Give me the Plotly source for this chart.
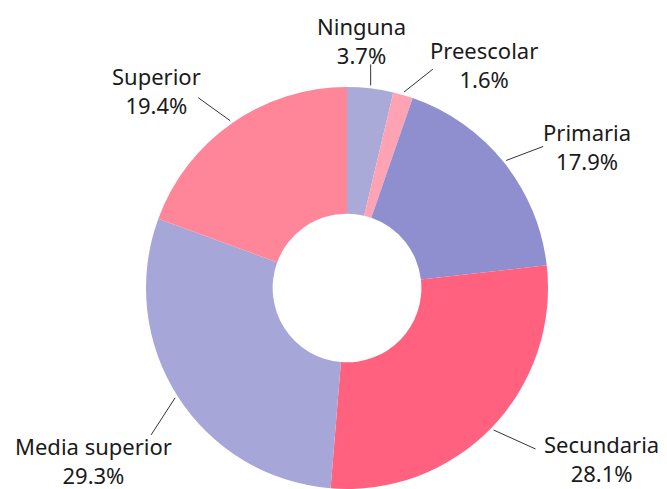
import math
import plotly.graph_objects as go

# ---- data ----
categories = ["Ninguna", "Preescolar", "Primaria", "Secundaria", "Media superior", "Superior"]
percentages = [3.7, 1.6, 17.9, 28.1, 29.3, 19.4]

# ---- styles ----
colors = ["#aaaad8", "#ffa2b4", "#8f8fcf", "#ff617e", "#a6a6d8", "#ff8598"]
# leader line vector (px) from slice edge, and label centre offset from line end (px)
line_vectors = [(0, -21), (29, -23), (37, -14), (42, 19), (-24, 37), (-32, -23)]
label_offsets = [(-9, -24), (51, -5), (44, 0), (66, 10), (-58, 26), (-42, -7)]

W, H = 667, 489
cx, R = 347, 201
cy = H - R  # pixel from top
hole = 0.37

fig = go.Figure(go.Pie(
    labels=categories,
    values=percentages,
    sort=False,
    direction="clockwise",
    rotation=0,
    hole=hole,
    marker=dict(colors=colors, line=dict(width=0)),
    textinfo="none",
    hoverinfo="label+percent",
    domain=dict(x=[(cx - R) / W, (cx + R) / W], y=[0, 2 * R / H]),
    showlegend=False,
))

def px2paper(x, y):
    return x / W, 1 - y / H

total = sum(percentages)
cum = 0.0
shapes, annotations = [], []
for name, val, (lx, ly), (tx, ty) in zip(categories, percentages, line_vectors, label_offsets):
    mid = (cum + val / 2) / total * 2 * math.pi
    cum += val
    sx = cx + (R + 3) * math.sin(mid)
    sy = cy - (R + 3) * math.cos(mid)
    ex, ey = sx + lx, sy + ly
    x0, y0 = px2paper(sx, sy)
    x1, y1 = px2paper(ex, ey)
    shapes.append(dict(type="line", xref="paper", yref="paper", x0=x0, y0=y0, x1=x1, y1=y1,
                       line=dict(color="#333333", width=1)))
    ax_, ay_ = px2paper(ex + tx, ey + ty)
    annotations.append(dict(x=ax_, y=ay_, xref="paper", yref="paper", showarrow=False,
                            text=f"{name}<br>{val}%", xanchor="center", yanchor="middle",
                            align="center", font=dict(size=22, color="#1a1a1a", family="Noto Sans")))

fig.update_layout(
    width=W, height=H,
    margin=dict(l=0, r=0, t=0, b=0),
    paper_bgcolor="white", plot_bgcolor="white",
    shapes=shapes, annotations=annotations,
    font=dict(family="Noto Sans"),
)

fig.write_html("out.html", config={"displayModeBar": False},
               post_script="document.body.style.margin='0';document.body.style.overflow='hidden';")
